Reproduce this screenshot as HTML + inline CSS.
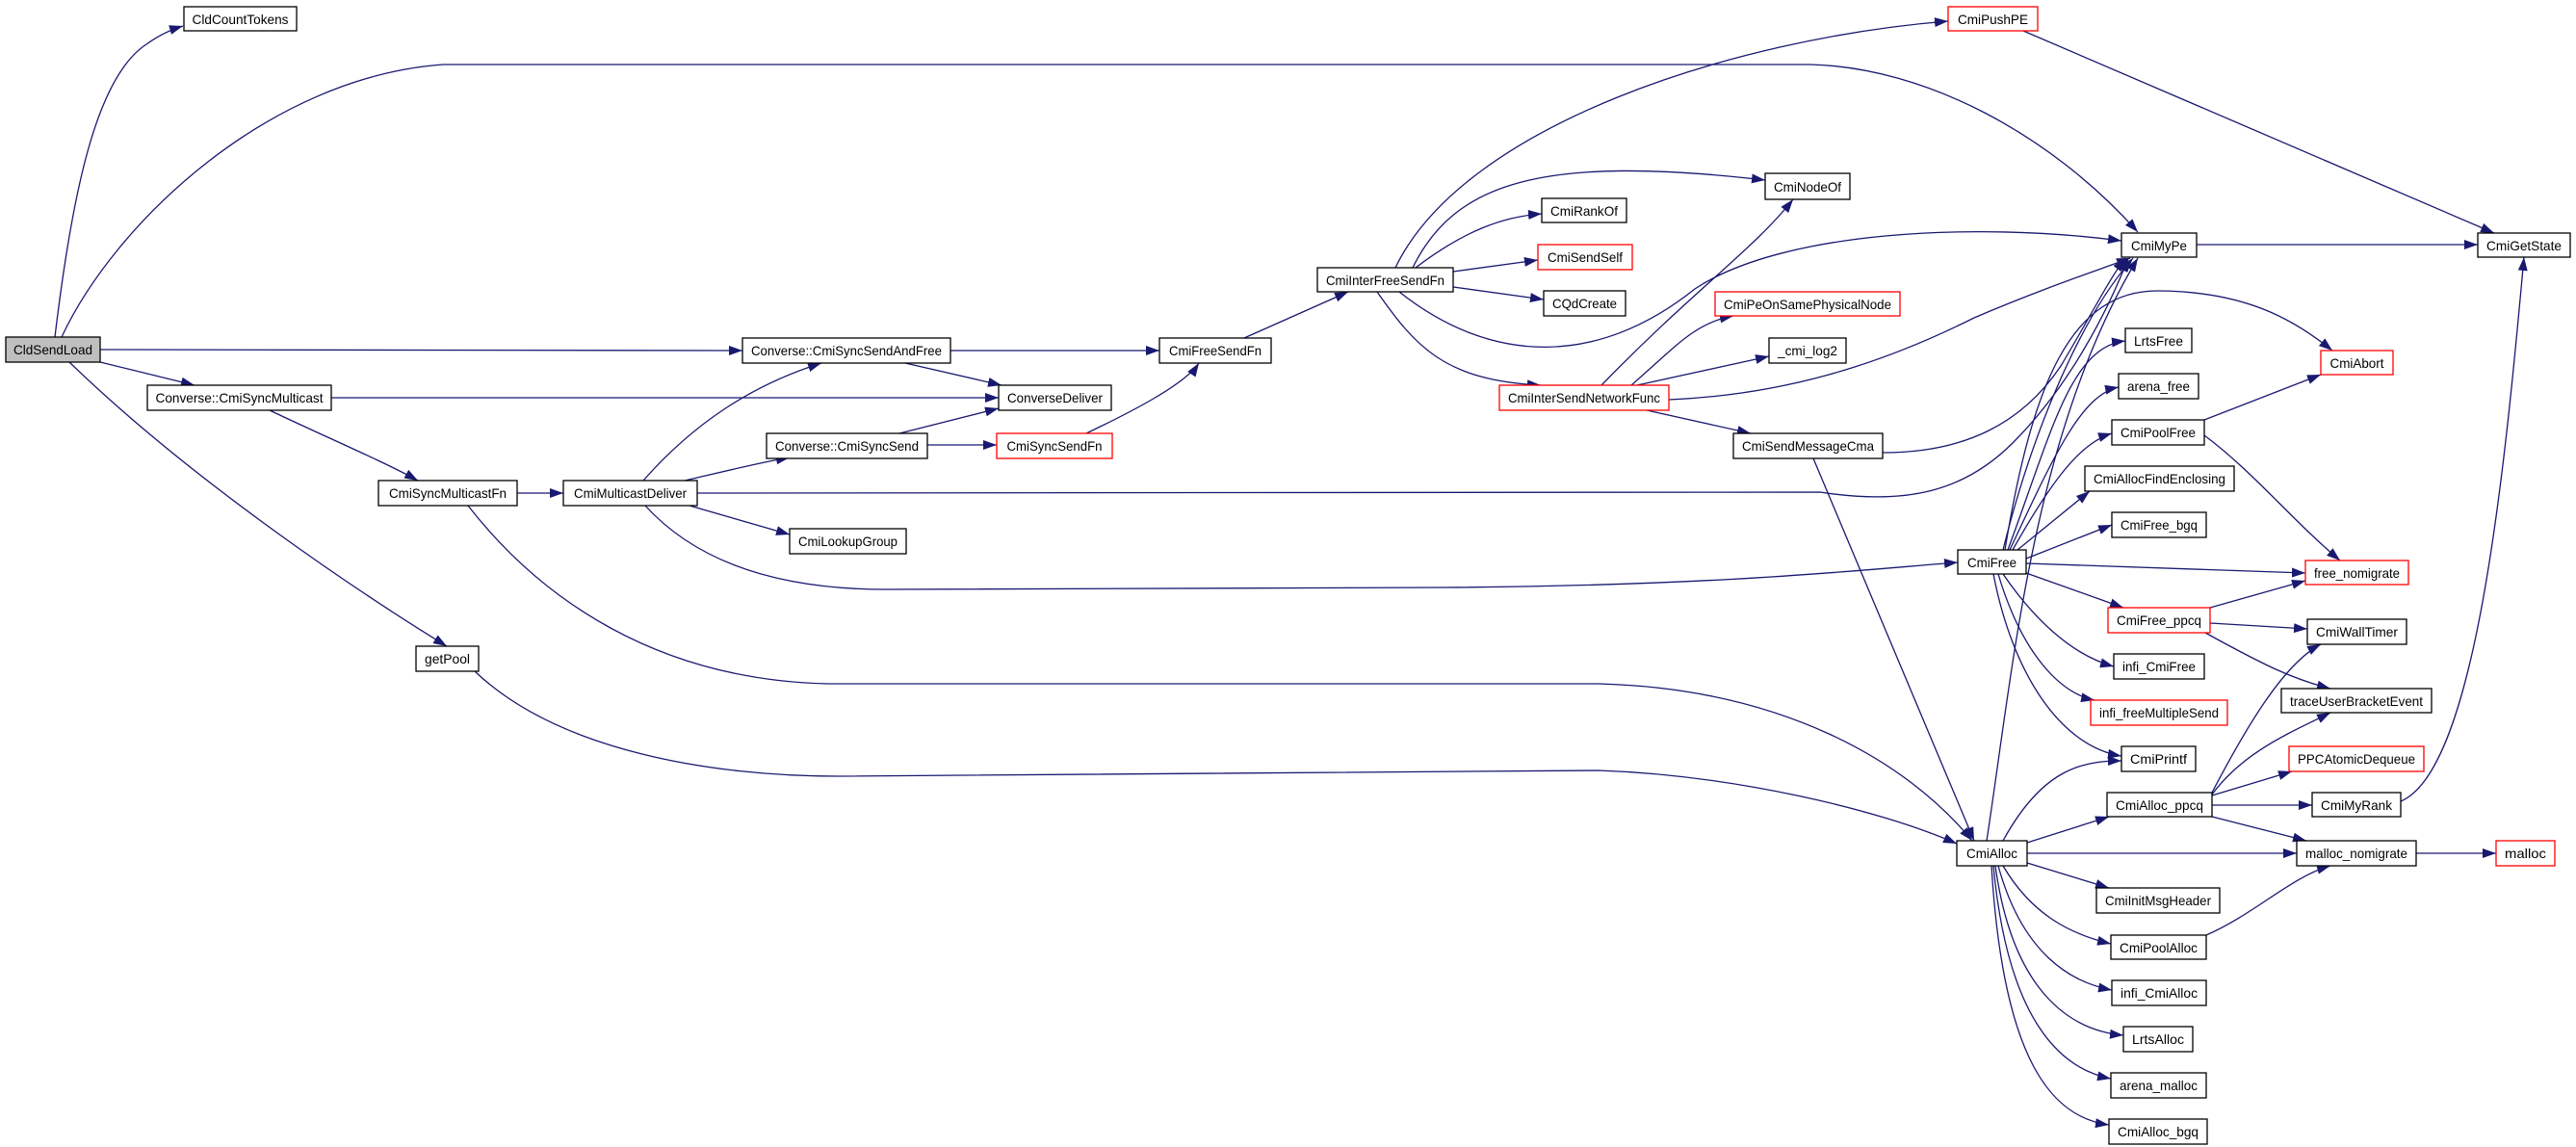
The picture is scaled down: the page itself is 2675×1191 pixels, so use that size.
<!DOCTYPE html>
<html><head><meta charset="utf-8"><style>
html,body{margin:0;padding:0;background:#fff;}
svg{display:block;}
text{font-family:"Liberation Sans",Arial,sans-serif;font-size:14px;fill:#000;}
.e{fill:none;stroke:#191970;stroke-width:1.3;marker-end:url(#a);}
.n{fill:#fff;stroke:#000;stroke-width:1.3;}
.r{fill:#fff;stroke:#ff0000;stroke-width:1.3;}
</style></head><body>
<svg width="2675" height="1191" viewBox="0 0 2675 1191" xmlns="http://www.w3.org/2000/svg">
<defs><marker id="a" markerUnits="userSpaceOnUse" markerWidth="15" markerHeight="10" refX="14" refY="5" orient="auto"><polygon points="0,0 14,5 0,10" fill="#191970"/></marker></defs>
<g>
<path class="e" d="M57,350 C75,200 100,80 152,46 Q170,33 190,27"/>
<path class="e" d="M64,350 C120,230 280,80 460,67 L1880,67 C2000,70 2130,140 2220,241"/>
<path class="e" d="M104,363 L771,364"/>
<path class="e" d="M104,376 L202,400"/>
<path class="e" d="M72,376 C200,500 380,620 464,671"/>
<path class="e" d="M344,413 L1037,413"/>
<path class="e" d="M280,426 C330,450 400,480 434,499"/>
<path class="e" d="M537,512 L585,512"/>
<path class="e" d="M486,525 C560,620 680,706 860,710 L1660,710 C1850,715 1980,790 2048,873"/>
<path class="e" d="M493,697 C580,780 740,806 870,806 L1660,800 C1800,805 1950,840 2032,876"/>
<path class="e" d="M668,499 C720,440 780,400 853,377"/>
<path class="e" d="M711,499 C750,490 790,480 820,475"/>
<path class="e" d="M724,512 L1890,511 C1980,525 2040,510 2090,460 C2150,400 2190,320 2210,268"/>
<path class="e" d="M716,525 L820,555"/>
<path class="e" d="M670,525 C720,580 800,612 920,612 L1500,610 C1800,608 1950,590 2033,584"/>
<path class="e" d="M987,364 L1204,364"/>
<path class="e" d="M940,377 L1040,400"/>
<path class="e" d="M934,450 L1037,424"/>
<path class="e" d="M963,462 L1035,462"/>
<path class="e" d="M1128,450 C1170,430 1230,400 1245,377"/>
<path class="e" d="M1292,351 L1400,303"/>
<path class="e" d="M1449,278 C1520,130 1800,40 2023,22"/>
<path class="e" d="M1467,278 C1510,190 1600,160 1833,187"/>
<path class="e" d="M1470,278 C1520,240 1560,225 1601,222"/>
<path class="e" d="M1509,282 L1597,270"/>
<path class="e" d="M1509,298 L1603,311"/>
<path class="e" d="M1453,303 C1550,380 1660,380 1760,300 C1850,240 2050,230 2203,250"/>
<path class="e" d="M1430,303 C1470,360 1500,395 1600,400"/>
<path class="e" d="M1663,400 C1760,300 1820,260 1862,207"/>
<path class="e" d="M1694,400 C1740,360 1760,335 1800,328"/>
<path class="e" d="M1700,400 L1837,370"/>
<path class="e" d="M1733,415 C1850,410 1950,380 2050,330 C2120,300 2180,280 2212,268"/>
<path class="e" d="M1710,426 L1818,450"/>
<path class="e" d="M1955,470 C2040,470 2100,440 2140,380 C2170,330 2190,290 2207,268"/>
<path class="e" d="M1883,476 L2050,873"/>
<path class="e" d="M2101,32 L2590,242"/>
<path class="e" d="M2281,254 L2573,254"/>
<path class="e" d="M2493,832 C2570,800 2600,500 2621,267"/>
<path class="e" d="M2080,571 C2110,450 2160,330 2215,268"/>
<path class="e" d="M2082,571 C2110,400 2150,300 2243,302 C2330,303 2380,330 2422,364"/>
<path class="e" d="M2085,571 C2130,450 2150,360 2207,354"/>
<path class="e" d="M2087,571 C2130,480 2160,410 2200,402"/>
<path class="e" d="M2090,571 C2130,500 2160,460 2193,450"/>
<path class="e" d="M2095,571 L2170,510"/>
<path class="e" d="M2104,580 L2193,545"/>
<path class="e" d="M2104,585 L2394,595"/>
<path class="e" d="M2104,595 L2205,631"/>
<path class="e" d="M2080,596 C2110,640 2150,680 2195,692"/>
<path class="e" d="M2075,596 C2100,680 2140,720 2175,727"/>
<path class="e" d="M2070,596 C2090,700 2140,775 2203,785"/>
<path class="e" d="M2289,436 L2410,389"/>
<path class="e" d="M2289,452 C2340,490 2380,540 2430,582"/>
<path class="e" d="M2295,631 L2394,603"/>
<path class="e" d="M2295,647 L2396,653"/>
<path class="e" d="M2290,657 C2350,690 2380,705 2420,715"/>
<path class="e" d="M2063,873 C2090,700 2110,450 2220,268"/>
<path class="e" d="M2080,873 C2120,800 2160,790 2203,790"/>
<path class="e" d="M2105,875 L2190,848"/>
<path class="e" d="M2105,886 L2385,886"/>
<path class="e" d="M2105,896 L2190,922"/>
<path class="e" d="M2080,899 C2110,950 2150,970 2192,980"/>
<path class="e" d="M2075,899 C2100,990 2150,1020 2193,1028"/>
<path class="e" d="M2072,899 C2090,1030 2150,1070 2205,1075"/>
<path class="e" d="M2070,899 C2085,1060 2140,1110 2192,1120"/>
<path class="e" d="M2068,899 C2080,1100 2130,1160 2190,1168"/>
<path class="e" d="M2297,823 C2330,760 2370,690 2410,669"/>
<path class="e" d="M2297,825 C2330,780 2380,760 2420,740"/>
<path class="e" d="M2297,826 L2380,801"/>
<path class="e" d="M2297,836 L2401,836"/>
<path class="e" d="M2297,848 L2395,873"/>
<path class="e" d="M2291,971 C2340,950 2380,910 2420,899"/>
<path class="e" d="M2509,886 L2592,886"/>
</g>
<g>
<rect x="6" y="350" width="98" height="26" fill="#bfbfbf" stroke="#000" stroke-width="1.3"/><text x="55" y="368" text-anchor="middle" textLength="82" lengthAdjust="spacingAndGlyphs">CldSendLoad</text>
<rect class="n" x="191" y="7" width="117" height="25"/><text x="249.5" y="25" text-anchor="middle" textLength="100" lengthAdjust="spacingAndGlyphs">CldCountTokens</text>
<rect class="n" x="153" y="400" width="191" height="26"/><text x="248.5" y="418" text-anchor="middle" textLength="174" lengthAdjust="spacingAndGlyphs">Converse::CmiSyncMulticast</text>
<rect class="n" x="393" y="499" width="144" height="26"/><text x="465" y="517" text-anchor="middle" textLength="122" lengthAdjust="spacingAndGlyphs">CmiSyncMulticastFn</text>
<rect class="n" x="585" y="499" width="139" height="26"/><text x="654.5" y="517" text-anchor="middle" textLength="117" lengthAdjust="spacingAndGlyphs">CmiMulticastDeliver</text>
<rect class="n" x="771" y="351" width="216" height="26"/><text x="879" y="369" text-anchor="middle" textLength="198" lengthAdjust="spacingAndGlyphs">Converse::CmiSyncSendAndFree</text>
<rect class="n" x="796" y="450" width="167" height="26"/><text x="879.5" y="468" text-anchor="middle" textLength="149" lengthAdjust="spacingAndGlyphs">Converse::CmiSyncSend</text>
<rect class="n" x="1037" y="400" width="117" height="26"/><text x="1095.5" y="418" text-anchor="middle" textLength="99" lengthAdjust="spacingAndGlyphs">ConverseDeliver</text>
<rect class="r" x="1035" y="450" width="120" height="26"/><text x="1095" y="468" text-anchor="middle" textLength="99" lengthAdjust="spacingAndGlyphs">CmiSyncSendFn</text>
<rect class="n" x="820" y="549" width="121" height="26"/><text x="880.5" y="567" text-anchor="middle" textLength="103" lengthAdjust="spacingAndGlyphs">CmiLookupGroup</text>
<rect class="n" x="432" y="671" width="65" height="26"/><text x="464.5" y="689" text-anchor="middle" textLength="47" lengthAdjust="spacingAndGlyphs">getPool</text>
<rect class="n" x="1204" y="351" width="116" height="26"/><text x="1262" y="369" text-anchor="middle" textLength="96" lengthAdjust="spacingAndGlyphs">CmiFreeSendFn</text>
<rect class="n" x="1368" y="278" width="141" height="25"/><text x="1438.5" y="296" text-anchor="middle" textLength="123" lengthAdjust="spacingAndGlyphs">CmiInterFreeSendFn</text>
<rect class="r" x="2023" y="7" width="93" height="25"/><text x="2069.5" y="25" text-anchor="middle" textLength="73" lengthAdjust="spacingAndGlyphs">CmiPushPE</text>
<rect class="n" x="1833" y="180" width="88" height="27"/><text x="1877" y="199" text-anchor="middle" textLength="70" lengthAdjust="spacingAndGlyphs">CmiNodeOf</text>
<rect class="n" x="1601" y="206" width="88" height="25"/><text x="1645" y="224" text-anchor="middle" textLength="70" lengthAdjust="spacingAndGlyphs">CmiRankOf</text>
<rect class="r" x="1597" y="254" width="98" height="26"/><text x="1646" y="272" text-anchor="middle" textLength="78" lengthAdjust="spacingAndGlyphs">CmiSendSelf</text>
<rect class="n" x="1603" y="302" width="85" height="26"/><text x="1645.5" y="320" text-anchor="middle" textLength="67" lengthAdjust="spacingAndGlyphs">CQdCreate</text>
<rect class="r" x="1781" y="303" width="192" height="25"/><text x="1877" y="321" text-anchor="middle" textLength="174" lengthAdjust="spacingAndGlyphs">CmiPeOnSamePhysicalNode</text>
<rect class="n" x="1837" y="351" width="80" height="26"/><text x="1877" y="369" text-anchor="middle" textLength="62" lengthAdjust="spacingAndGlyphs">_cmi_log2</text>
<rect class="r" x="1557" y="400" width="176" height="26"/><text x="1645" y="418" text-anchor="middle" textLength="158" lengthAdjust="spacingAndGlyphs">CmiInterSendNetworkFunc</text>
<rect class="n" x="1800" y="450" width="155" height="26"/><text x="1877.5" y="468" text-anchor="middle" textLength="137" lengthAdjust="spacingAndGlyphs">CmiSendMessageCma</text>
<rect class="n" x="2203" y="242" width="78" height="25"/><text x="2242" y="260" text-anchor="middle" textLength="58" lengthAdjust="spacingAndGlyphs">CmiMyPe</text>
<rect class="n" x="2573" y="242" width="96" height="25"/><text x="2621" y="260" text-anchor="middle" textLength="78" lengthAdjust="spacingAndGlyphs">CmiGetState</text>
<rect class="n" x="2207" y="341" width="69" height="25"/><text x="2241.5" y="359" text-anchor="middle" textLength="51" lengthAdjust="spacingAndGlyphs">LrtsFree</text>
<rect class="n" x="2200" y="388" width="83" height="26"/><text x="2241.5" y="406" text-anchor="middle" textLength="65" lengthAdjust="spacingAndGlyphs">arena_free</text>
<rect class="r" x="2410" y="364" width="75" height="25"/><text x="2447.5" y="382" text-anchor="middle" textLength="56" lengthAdjust="spacingAndGlyphs">CmiAbort</text>
<rect class="n" x="2193" y="436" width="96" height="26"/><text x="2241" y="454" text-anchor="middle" textLength="78" lengthAdjust="spacingAndGlyphs">CmiPoolFree</text>
<rect class="n" x="2165" y="484" width="155" height="26"/><text x="2242.5" y="502" text-anchor="middle" textLength="137" lengthAdjust="spacingAndGlyphs">CmiAllocFindEnclosing</text>
<rect class="n" x="2193" y="532" width="98" height="26"/><text x="2242" y="550" text-anchor="middle" textLength="80" lengthAdjust="spacingAndGlyphs">CmiFree_bgq</text>
<rect class="n" x="2033" y="571" width="71" height="25"/><text x="2068.5" y="589" text-anchor="middle" textLength="51" lengthAdjust="spacingAndGlyphs">CmiFree</text>
<rect class="r" x="2394" y="582" width="107" height="25"/><text x="2447.5" y="600" text-anchor="middle" textLength="89" lengthAdjust="spacingAndGlyphs">free_nomigrate</text>
<rect class="r" x="2189" y="631" width="106" height="26"/><text x="2242" y="649" text-anchor="middle" textLength="88" lengthAdjust="spacingAndGlyphs">CmiFree_ppcq</text>
<rect class="n" x="2396" y="643" width="103" height="26"/><text x="2447.5" y="661" text-anchor="middle" textLength="85" lengthAdjust="spacingAndGlyphs">CmiWallTimer</text>
<rect class="n" x="2195" y="679" width="94" height="26"/><text x="2242" y="697" text-anchor="middle" textLength="76" lengthAdjust="spacingAndGlyphs">infi_CmiFree</text>
<rect class="n" x="2369" y="715" width="156" height="25"/><text x="2447" y="733" text-anchor="middle" textLength="138" lengthAdjust="spacingAndGlyphs">traceUserBracketEvent</text>
<rect class="r" x="2171" y="727" width="142" height="26"/><text x="2242" y="745" text-anchor="middle" textLength="124" lengthAdjust="spacingAndGlyphs">infi_freeMultipleSend</text>
<rect class="n" x="2203" y="775" width="77" height="26"/><text x="2241.5" y="793" text-anchor="middle" textLength="59" lengthAdjust="spacingAndGlyphs">CmiPrintf</text>
<rect class="r" x="2377" y="775" width="140" height="26"/><text x="2447" y="793" text-anchor="middle" textLength="122" lengthAdjust="spacingAndGlyphs">PPCAtomicDequeue</text>
<rect class="n" x="2188" y="823" width="109" height="25"/><text x="2242.5" y="841" text-anchor="middle" textLength="91" lengthAdjust="spacingAndGlyphs">CmiAlloc_ppcq</text>
<rect class="n" x="2401" y="823" width="92" height="25"/><text x="2447" y="841" text-anchor="middle" textLength="74" lengthAdjust="spacingAndGlyphs">CmiMyRank</text>
<rect class="n" x="2032" y="873" width="73" height="26"/><text x="2068.5" y="891" text-anchor="middle" textLength="53" lengthAdjust="spacingAndGlyphs">CmiAlloc</text>
<rect class="n" x="2385" y="873" width="124" height="26"/><text x="2447" y="891" text-anchor="middle" textLength="106" lengthAdjust="spacingAndGlyphs">malloc_nomigrate</text>
<rect class="r" x="2592" y="873" width="61" height="26"/><text x="2622.5" y="891" text-anchor="middle" textLength="43" lengthAdjust="spacingAndGlyphs">malloc</text>
<rect class="n" x="2177" y="922" width="128" height="26"/><text x="2241" y="940" text-anchor="middle" textLength="110" lengthAdjust="spacingAndGlyphs">CmiInitMsgHeader</text>
<rect class="n" x="2192" y="971" width="99" height="25"/><text x="2241.5" y="989" text-anchor="middle" textLength="81" lengthAdjust="spacingAndGlyphs">CmiPoolAlloc</text>
<rect class="n" x="2193" y="1018" width="98" height="26"/><text x="2242" y="1036" text-anchor="middle" textLength="80" lengthAdjust="spacingAndGlyphs">infi_CmiAlloc</text>
<rect class="n" x="2205" y="1066" width="72" height="26"/><text x="2241" y="1084" text-anchor="middle" textLength="54" lengthAdjust="spacingAndGlyphs">LrtsAlloc</text>
<rect class="n" x="2192" y="1114" width="99" height="26"/><text x="2241.5" y="1132" text-anchor="middle" textLength="81" lengthAdjust="spacingAndGlyphs">arena_malloc</text>
<rect class="n" x="2190" y="1162" width="102" height="26"/><text x="2241" y="1180" text-anchor="middle" textLength="84" lengthAdjust="spacingAndGlyphs">CmiAlloc_bgq</text>
</g>
</svg>
</body></html>
